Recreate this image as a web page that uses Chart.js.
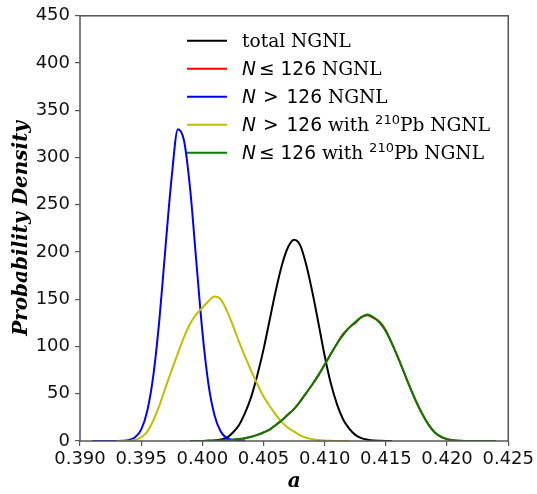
<!DOCTYPE html>
<html lang="en">
<head>
    <meta charset="UTF-8">
    <title>Probability Density of a</title>
    <script src="https://cdn.jsdelivr.net/npm/chart.js"></script>
    <style>
        body { margin: 0; background: #fff; }
        canvas { display: block; }
    </style>
</head>
<body>
    <canvas id="densityChart" width="537" height="494"></canvas>

    <script>
        // values of a (shared x grid)
        const aValues = [
            0.3910, 0.3915, 0.3920, 0.3925, 0.3930, 0.3935, 0.3940, 0.3945, 0.3950, 0.3955,
            0.3960, 0.3965, 0.3970, 0.3975, 0.3980, 0.3985, 0.3990, 0.3995, 0.4000, 0.4005,
            0.4010, 0.4015, 0.4020, 0.4025, 0.4030, 0.4035, 0.4040, 0.4045, 0.4050, 0.4055,
            0.4060, 0.4065, 0.4070, 0.4075, 0.4080, 0.4085, 0.4090, 0.4095, 0.4100, 0.4105,
            0.4110, 0.4115, 0.4120, 0.4125, 0.4130, 0.4135, 0.4140, 0.4145, 0.4150, 0.4155,
            0.4160, 0.4165, 0.4170, 0.4175, 0.4180, 0.4185, 0.4190, 0.4195, 0.4200, 0.4205,
            0.4210, 0.4215, 0.4220, 0.4225, 0.4230, 0.4235, 0.4240
        ];

        const totalNGNL = [
            null, null, null, null, null, null, null, null, null, null,
            null, null, null, null, null, null, null, null, 0, 0.2,
            0.5, 1.5, 3.5, 9, 17, 30, 47, 70, 97, 128,
            159, 186, 205, 213, 207, 186, 157, 124, 90, 61,
            39, 23, 13, 6.5, 3, 1.4, 0.5, 0.2, 0, 0,
            null, null, null, null, null, null, null, null, null, null,
            null, null, null, null, null, null, null
        ];

        const lowNNGNL = [
            null, null, null, null, null, null, null, null, null, null,
            null, null, null, null, null, null, 0, 0, 0.1, 0.2,
            0.3, 0.5, 0.8, 1.3, 2, 3, 4.5, 6.5, 9, 12,
            17, 22, 28, 34, 42, 51, 60, 70, 81, 92,
            103, 113, 120, 125, 131, 133, 130, 126, 117, 103,
            88, 72, 56, 41, 28, 17, 9, 4.5, 2, 0.8,
            0.3, 0.1, 0, 0, 0, 0, 0
        ];

        const highNNGNL = [
            0, 0, 0, 0, 0.1, 0.3, 1.2, 4, 12, 32,
            70, 130, 207, 280, 330, 318, 267, 191, 116, 60,
            27, 10, 3, 1, 0.2, 0, null, null, null, null,
            null, null, null, null, null, null, null, null, null, null,
            null, null, null, null, null, null, null, null, null, null,
            null, null, null, null, null, null, null, null, null, null,
            null, null, null, null, null, null, null
        ];

        const highNPbNGNL = [
            null, null, null, null, 0, 0.1, 0.3, 1, 4, 10,
            22, 38, 57, 75, 93, 110, 124, 134, 141, 148,
            153, 150, 138, 122, 105, 89, 74, 60, 47, 37,
            28, 20, 14, 10, 6, 3.5, 2, 1, 0.5, 0.2,
            0.1, 0, 0, null, null, null, null, null, null, null,
            null, null, null, null, null, null, null, null, null, null,
            null, null, null, null, null, null, null
        ];

        const lowNPbNGNL = [
            null, null, null, null, null, null, null, null, null, null,
            null, null, null, null, null, null, 0, 0, 0.1, 0.2,
            0.3, 0.5, 0.8, 1.3, 2, 3, 4.5, 6.5, 9, 12,
            17, 22, 28, 34, 42, 51, 60, 70, 81, 92,
            103, 112, 120, 126, 131, 134, 131, 125, 116, 103,
            88, 72, 56, 41, 28, 17, 9, 4.5, 2, 0.8,
            0.3, 0.1, 0, 0, 0, 0, 0
        ];

        const yTicks = [0, 50, 100, 150, 200, 250, 300, 350, 400, 450];
        const xTicks = [0.390, 0.395, 0.400, 0.405, 0.410, 0.415, 0.420, 0.425];

        const toPoints = (vals) => aValues.map((a, i) => ({ x: a, y: vals[i] }));

        // legend texts: [text, font, gap before, vertical shift]
        const serif = '18.6px "DejaVu Serif"';
        const mathIt = 'italic 18.6px "DejaVu Sans"';
        const math = '18.6px "DejaVu Sans"';
        const sup = '13px "DejaVu Sans"';
        const legendRows = [
            { color: '#000000', runs: [['total NGNL', serif, 0, 0]] },
            { color: '#ff0000', runs: [['N', mathIt, 0, 0], ['\u2264', math, 3, 0], ['126', math, 6, 0], [' NGNL', serif, 0, 0]] },
            { color: '#0000ff', runs: [['N', mathIt, 0, 0], ['>', math, 7, 0], ['126', math, 8, 0], [' NGNL', serif, 0, 0]] },
            { color: '#bfbf00', runs: [['N', mathIt, 0, 0], ['>', math, 7, 0], ['126', math, 8, 0], [' with ', serif, 0, 0], ['210', sup, 0, -7], ['Pb NGNL', serif, 0, 0]] },
            { color: '#008000', runs: [['N', mathIt, 0, 0], ['\u2264', math, 3, 0], ['126', math, 6, 0], [' with ', serif, 0, 0], ['210', sup, 0, -7], ['Pb NGNL', serif, 0, 0]] }
        ];

        const frameAndLegend = {
            id: 'frameAndLegend',
            afterDraw(chart) {
                const { ctx, chartArea: ca } = chart;
                ctx.save();
                ctx.strokeStyle = '#555';
                ctx.lineWidth = 1.5;
                ctx.strokeRect(ca.left, ca.top, ca.right - ca.left, ca.bottom - ca.top);

                // legend inside the axes
                const lineX0 = 187, lineX1 = 227, textX = 242;
                legendRows.forEach((row, i) => {
                    const y = 40.7 + i * 28;
                    ctx.strokeStyle = row.color;
                    ctx.lineWidth = 2;
                    ctx.beginPath();
                    ctx.moveTo(lineX0, y);
                    ctx.lineTo(lineX1, y);
                    ctx.stroke();

                    ctx.fillStyle = '#000';
                    ctx.textBaseline = 'alphabetic';
                    ctx.textAlign = 'left';
                    let x = textX;
                    row.runs.forEach(([text, font, gap, dy]) => {
                        x += gap;
                        ctx.font = font;
                        ctx.fillText(text, x, y + 6.6 + dy);
                        x += ctx.measureText(text).width;
                    });
                });
                ctx.restore();
            }
        };

        const ctx = document.getElementById('densityChart').getContext('2d');

        new Chart(ctx, {
            type: 'line',
            data: {
                datasets: [
                    { label: 'total NGNL', data: toPoints(totalNGNL), borderColor: '#000000', order: 4 },
                    { label: 'N <= 126 NGNL', data: toPoints(lowNNGNL), borderColor: '#ff0000', order: 3 },
                    { label: 'N > 126 NGNL', data: toPoints(highNNGNL), borderColor: '#0000ff', order: 2 },
                    { label: 'N > 126 with 210Pb NGNL', data: toPoints(highNPbNGNL), borderColor: '#bfbf00', order: 1 },
                    { label: 'N <= 126 with 210Pb NGNL', data: toPoints(lowNPbNGNL), borderColor: '#008000', order: 0 }
                ]
            },
            options: {
                responsive: false,
                animation: false,
                layout: { padding: { left: 0, top: 15, right: 28, bottom: 0 } },
                elements: {
                    point: { radius: 0 },
                    line: { borderWidth: 2, cubicInterpolationMode: 'monotone', fill: false }
                },
                plugins: {
                    legend: { display: false },
                    tooltip: { enabled: false }
                },
                scales: {
                    x: {
                        type: 'linear',
                        min: 0.39,
                        max: 0.425,
                        afterFit: (scale) => { scale.height = 53; },
                        afterBuildTicks: (scale) => { scale.ticks = xTicks.map(v => ({ value: v })); },
                        ticks: {
                            autoSkip: false,
                            maxRotation: 0,
                            padding: 3,
                            color: '#111',
                            font: { family: 'DejaVu Sans', size: 18 },
                            callback: (v) => Number(v).toFixed(3)
                        },
                        grid: { drawOnChartArea: false, tickLength: 5, color: '#555', lineWidth: 1.2 },
                        border: { display: false },
                        title: {
                            display: true,
                            text: 'a',
                            color: '#000',
                            padding: { top: 0, bottom: 0 },
                            font: { family: 'DejaVu Serif', size: 20, weight: 'bold', style: 'italic' }
                        }
                    },
                    y: {
                        min: 0,
                        max: 450,
                        afterFit: (scale) => { scale.width = 80; },
                        afterBuildTicks: (scale) => { scale.ticks = yTicks.map(v => ({ value: v })); },
                        ticks: {
                            padding: 5,
                            color: '#111',
                            font: { family: 'DejaVu Sans', size: 18 }
                        },
                        grid: { drawOnChartArea: false, tickLength: 5, color: '#555', lineWidth: 1.2 },
                        border: { display: false },
                        title: {
                            display: true,
                            text: 'Probability Density',
                            color: '#000',
                            padding: { top: 10, bottom: 0 },
                            font: { family: 'DejaVu Serif', size: 20, weight: 'bold', style: 'italic' }
                        }
                    }
                }
            },
            plugins: [frameAndLegend]
        });
    </script>
</body>
</html>
